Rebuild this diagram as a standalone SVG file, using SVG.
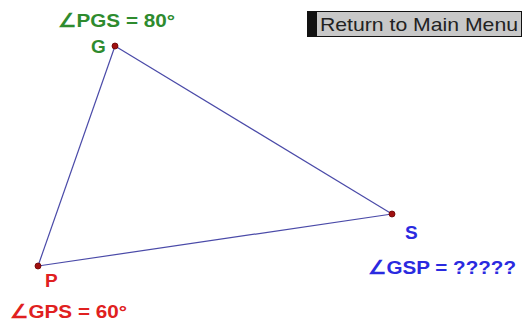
<svg xmlns="http://www.w3.org/2000/svg" width="523" height="324" viewBox="0 0 523 324">
<style>
.lbl{font-family:"Liberation Sans",Arial,sans-serif;font-weight:bold;font-size:19px}
.pt{fill:#a01010;stroke:#6a0000;stroke-width:0.8}
</style>
<rect width="523" height="324" fill="#fff"/>
<g id="connectors" stroke="#4a4aa8" stroke-width="1.2" fill="none">
<line x1="115" y1="46" x2="392" y2="214"/>
<line x1="392" y1="214" x2="38" y2="266"/>
<line x1="38" y1="266" x2="115" y2="46"/>
</g>
<g id="G"><circle class="pt" cx="115" cy="46" r="3"/><text class="lbl" x="91" y="53" fill="#2e8b2e" font-size="15">G</text></g>
<g id="S"><circle class="pt" cx="392" cy="214" r="3"/><text class="lbl" x="405" y="239" fill="#2a2adf" font-size="15">S</text></g>
<g id="P"><circle class="pt" cx="38" cy="266" r="3"/><text class="lbl" x="45" y="287" fill="#e02020" font-size="15">P</text></g>
<g id="angle-PGS"><text class="lbl" x="58" y="27" fill="#2e8b2e" textLength="117" lengthAdjust="spacingAndGlyphs">∠PGS = 80°</text></g>
<g id="angle-GSP"><text class="lbl" x="368" y="274" fill="#2a2adf" textLength="148" lengthAdjust="spacingAndGlyphs">∠GSP = ?????</text></g>
<g id="angle-GPS"><text class="lbl" x="10" y="318" fill="#e02020" textLength="117" lengthAdjust="spacingAndGlyphs">∠GPS = 60°</text></g>
<g id="menu-button">
<rect x="307" y="11" width="215" height="26" fill="#111"/>
<rect x="317" y="12" width="204" height="24" fill="#c8c8c8"/>
<text x="320" y="31" font-family="Liberation Sans,Arial,sans-serif" font-size="19" fill="#222" textLength="198" lengthAdjust="spacingAndGlyphs">Return to Main Menu</text>
</g>
</svg>
